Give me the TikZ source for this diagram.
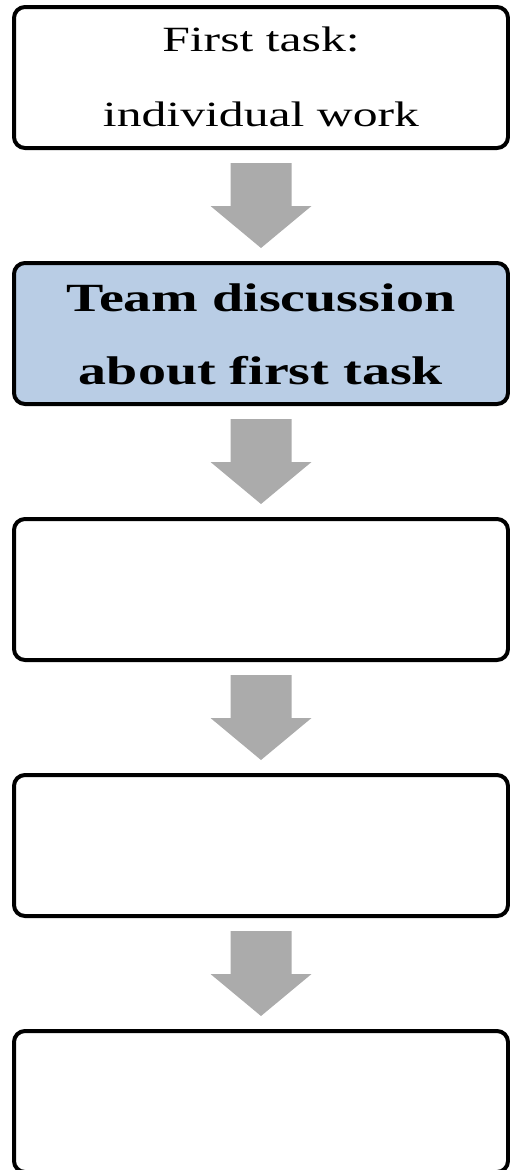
\documentclass[tikz,border=0pt]{standalone}
\usepackage{fontspec}
\setmainfont{Liberation Serif}[FakeStretch=1.4]
\usetikzlibrary{calc}
\definecolor{boxblue}{HTML}{B9CDE5}
\definecolor{arrowgray}{HTML}{ABABAB}
\tikzset{
  stepbox/.style={draw=black, line width=4pt, rounded corners=11pt, fill=white,
    minimum width=494pt, minimum height=141pt, inner sep=0pt},
  bluebox/.style={stepbox, fill=boxblue},
  plaintext/.style={align=center, inner sep=0pt, font=\fontsize{35.5}{75}\selectfont},
  boldtext/.style={align=center, inner sep=0pt, font=\fontsize{40}{73}\selectfont\bfseries},
  blockarrow/.style={fill=arrowgray, draw=none}
}
\newcommand{\blockarr}[2]{%
  \path let \p1=($(#1.south)!0.5!(#2.north)$) in
    [blockarrow] (\x1-30.5pt,\y1+42.5pt) -- (\x1+30.5pt,\y1+42.5pt) -- (\x1+30.5pt,\y1-0.5pt)
    -- (\x1+50.5pt,\y1-0.5pt) -- (\x1,\y1-42.5pt) -- (\x1-50.5pt,\y1-0.5pt)
    -- (\x1-30.5pt,\y1-0.5pt) -- cycle;}
\begin{document}
\begin{tikzpicture}[x=1pt,y=-1pt]
\useasboundingbox (0,0) rectangle (510,1170);
\node[stepbox] (b1) at (261,77.5) {};
\node[bluebox] (b2) at (261,333.5) {};
\node[stepbox] (b3) at (261,589.5) {};
\node[stepbox] (b4) at (261,845.5) {};
\node[stepbox] (b5) at (261,1101.5) {};
\node[plaintext, yshift=1pt] (t1) at (b1.center) {First task:\\individual work};
\node[boldtext, yshift=-1pt] (t2) at (b2.center) {Team discussion\\about first task};
\blockarr{b1}{b2}
\blockarr{b2}{b3}
\blockarr{b3}{b4}
\blockarr{b4}{b5}
\end{tikzpicture}
\end{document}
